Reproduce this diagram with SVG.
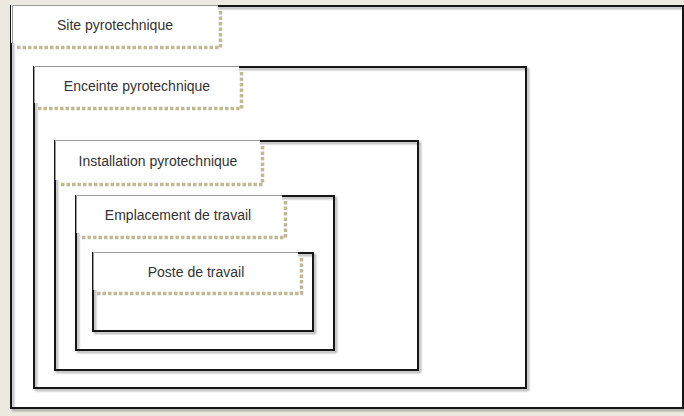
<svg xmlns="http://www.w3.org/2000/svg" width="684" height="416" viewBox="0 0 684 416">
  <style>
    .box { fill: none; stroke: #151515; stroke-width: 2; filter: url(#sh); }
    .lbl { fill: #ffffff; }
    .lblEdge { fill: none; stroke: #9a9a9a; stroke-width: 1; }
    .dots { fill: none; stroke: #bfba94; stroke-width: 3.5; stroke-dasharray: 3.5 2; }
    .txt { font-family: "Liberation Sans", Arial, sans-serif; font-size: 14px; fill: #333333; text-anchor: middle; }
  </style>
  <defs>
    <filter id="sh" x="-5%" y="-5%" width="110%" height="110%">
      <feDropShadow dx="2" dy="2" stdDeviation="1" flood-color="#000000" flood-opacity="0.35"/>
    </filter>
  </defs>
  <rect x="0" y="0" width="684" height="416" fill="#ece9df"/>
  <rect x="11" y="6" width="673" height="402" fill="#ffffff"/>

  <g id="site">
    <rect class="box" x="11" y="6" width="672" height="402"/>
    <rect class="lbl" x="11" y="5" width="207" height="38"/>
    <path class="lblEdge" d="M12.5 43 V5.5 H218"/>
    <path class="dots" d="M220.5 11 V47.5 H15"/>
    <text class="txt" x="115" y="30">Site pyrotechnique</text>
  </g>

  <g id="enceinte">
    <rect class="box" x="34" y="67" width="492" height="321"/>
    <rect class="lbl" x="34" y="66" width="205" height="37"/>
    <path class="lblEdge" d="M34.5 103 V66.5 H239"/>
    <path class="dots" d="M241.5 72 V108.5 H38"/>
    <text class="txt" x="137" y="91">Enceinte pyrotechnique</text>
  </g>

  <g id="installation">
    <rect class="box" x="55" y="141" width="363" height="229"/>
    <rect class="lbl" x="55" y="140" width="205" height="40"/>
    <path class="lblEdge" d="M55.5 180 V140.5 H260"/>
    <path class="dots" d="M262.5 146 V184.5 H59"/>
    <text class="txt" x="158" y="166">Installation pyrotechnique</text>
  </g>

  <g id="emplacement">
    <rect class="box" x="76" y="196" width="258" height="154"/>
    <rect class="lbl" x="76" y="195" width="206" height="38"/>
    <path class="lblEdge" d="M76.5 233 V195.5 H282"/>
    <path class="dots" d="M285.5 201 V237.5 H80"/>
    <text class="txt" x="178" y="220">Emplacement de travail</text>
  </g>

  <g id="poste">
    <rect class="box" x="93" y="253" width="220" height="78"/>
    <rect class="lbl" x="93" y="252" width="205" height="38"/>
    <path class="lblEdge" d="M93.5 290 V252.5 H298"/>
    <path class="dots" d="M301.5 258 V293.5 H97"/>
    <text class="txt" x="196" y="277">Poste de travail</text>
  </g>

  <g id="connectors"/>
</svg>
